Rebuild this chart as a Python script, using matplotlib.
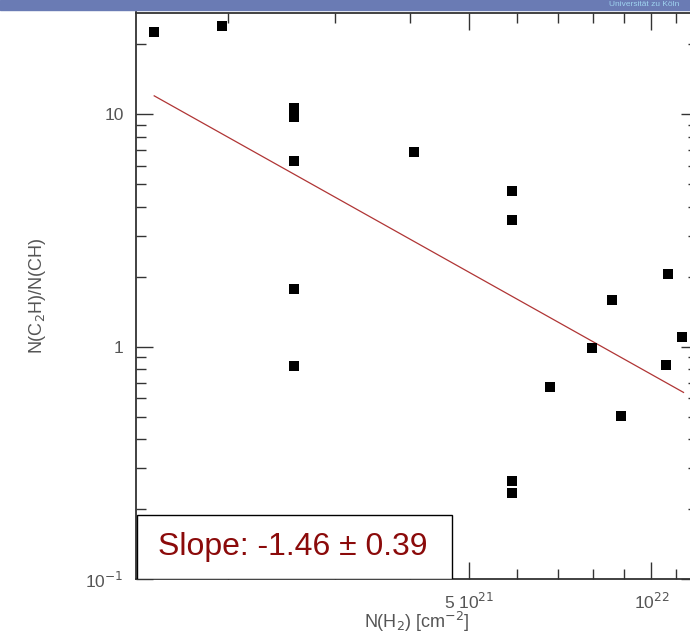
import numpy as np
import matplotlib.pyplot as plt
from matplotlib.ticker import FixedLocator, NullFormatter

# N(H2) [cm^-2] and N(C2H)/N(CH)
nh2 = [1.51e21, 1.955e21, 2.57e21, 2.57e21, 2.57e21, 2.57e21, 2.57e21,
       4.06e21, 5.88e21, 5.88e21, 5.88e21, 5.88e21, 6.80e21, 7.99e21,
       8.60e21, 8.91e21, 1.067e22, 1.057e22, 1.125e22]
ratio = [22.6, 24.0, 10.6, 9.69, 6.31, 1.77, 0.826,
         6.88, 4.69, 3.49, 0.265, 0.235, 0.671, 0.990,
         1.58, 0.505, 2.05, 0.834, 1.098]

# power-law fit: ratio = amp * (N / 1e21) ** slope
slope = -1.46
slope_err = 0.39
amp = 21.9
fit_range = [1.51e21, 1.13e22]

xmajor = [5e21, 1e22]
xmajor_labels = ['5 10$^{21}$', '10$^{22}$']
xminor = [2e21, 3e21, 4e21, 6e21, 7e21, 8e21, 9e21, 1.1e22]
ymajor = [0.1, 1, 10]
ymajor_labels = ['10$^{-1}$', '1', '10']
yminor = [k * 10.0 ** e for e in (-1, 0, 1) for k in range(2, 10)]

plt.rcParams['font.family'] = ['Liberation Sans', 'DejaVu Sans']

fig = plt.figure(figsize=(6.9, 6.44), dpi=100)

# slide header band
fig.patches.append(plt.Rectangle((0, 1 - 10 / 644), 1, 10 / 644,
                                 transform=fig.transFigure, color='#6a7bb4'))
fig.text(0.985, 1 - 5 / 644, 'Universität zu Köln', color='#9fd3f0',
         fontsize=6, ha='right', va='center')

ax = fig.add_axes([136 / 690, 1 - 579 / 644, 562 / 690, 566.5 / 644])
ax.set_xscale('log')
ax.set_yscale('log')
ax.set_xlim(1.409e21, 1.194e22)
ax.set_ylim(0.1, 27.4)

xf = np.logspace(np.log10(fit_range[0]), np.log10(fit_range[1]), 50)
ax.plot(xf, amp * (xf / 1e21) ** slope, color='#b03535', lw=0.9)
ax.plot(nh2, ratio, 's', color='black', ms=6.6, mec='black', mew=0)

ax.xaxis.set_major_locator(FixedLocator(xmajor))
ax.xaxis.set_minor_locator(FixedLocator(xminor))
ax.set_xticklabels(xmajor_labels)
ax.xaxis.set_minor_formatter(NullFormatter())
ax.yaxis.set_major_locator(FixedLocator(ymajor))
ax.yaxis.set_minor_locator(FixedLocator(yminor))
ax.set_yticklabels(ymajor_labels)
ax.yaxis.set_minor_formatter(NullFormatter())

ax.tick_params(which='both', direction='in', top=True, right=True,
               color='#333333', labelcolor='#555555', labelsize=12.5)
ax.tick_params(which='major', length=12, width=1, pad=9)
ax.tick_params(which='minor', length=7, width=1)
for s in ax.spines.values():
    s.set_color('#333333')
    s.set_linewidth(1.3)

ax.set_xlabel('N(H$_2$) [cm$^{-2}$]', color='#555555', fontsize=13, labelpad=-1)
ax.set_ylabel('N(C$_2$H)/N(CH)', color='#555555', fontsize=13, labelpad=27)

# slope box in the lower left corner
ax.add_patch(plt.Rectangle((1 / 562, 0), 315 / 562, 64 / 566.5,
                           transform=ax.transAxes, fc='white', ec='black',
                           lw=1, zorder=3))
ax.text(0.279, 0.057, 'Slope: %.2f \u00b1 %.2f' % (slope, slope_err),
        transform=ax.transAxes, color='#8b0a0a', fontsize=23,
        ha='center', va='center', zorder=4)

plt.savefig('out.png', dpi=100)
